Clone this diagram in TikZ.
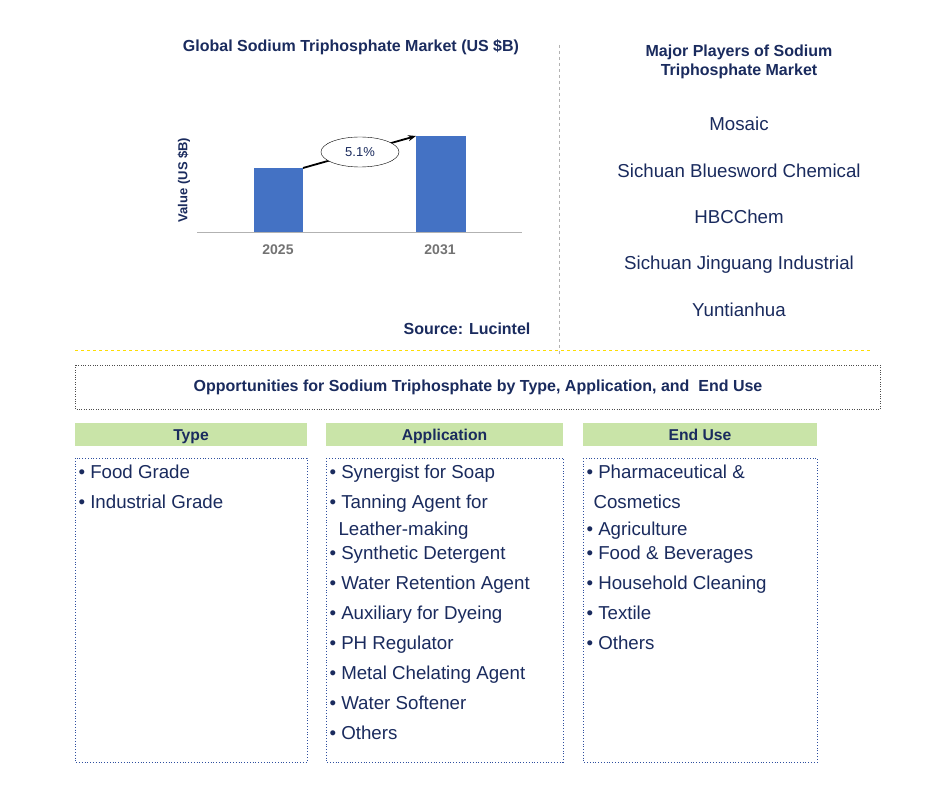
\documentclass[tikz,border=0pt]{standalone}
\usepackage{fontspec}
\setmainfont{Liberation Sans}
\usetikzlibrary{arrows.meta,shapes.geometric}
\definecolor{navy}{HTML}{1A2B5E}
\definecolor{barblue}{HTML}{4472C4}
\definecolor{hdrgreen}{HTML}{C9E4A8}
\definecolor{boxblue}{HTML}{2F4F9F}
\tikzset{
 ttl/.style={font=\fontsize{16}{19}\selectfont\bfseries, text=navy, align=center},
 player/.style={font=\fontsize{18.7}{22}\selectfont, text=navy, anchor=base},
 itm/.style={font=\fontsize{18.7}{22}\selectfont, text=navy, anchor=base west},
 hdr/.style={fill=hdrgreen, draw=none, minimum height=23pt},
 hdrtxt/.style={font=\fontsize{15.7}{18}\selectfont\bfseries, text=navy, anchor=base},
 dotbox/.style={draw=boxblue, dotted, thick},
 bar/.style={fill=barblue, draw=none},
}
\begin{document}
\begin{tikzpicture}[x=1pt,y=-1pt]
\useasboundingbox (0,0) rectangle (945,791);
\fill[white] (0,0) rectangle (945,791);
% chart
\node[ttl] (t1) at (351,47) {Global Sodium Triphosphate Market (US \$B)};
\node[ttl, font=\fontsize{13}{15}\selectfont\bfseries, rotate=90] (yl) at (184,180) {Value (US \$B)};
\draw[gray!60] (197,232) -- (522,232);
\fill[bar] (254,168) rectangle (303,232);
\fill[bar] (416,136) rectangle (466,232);
\coordinate (a1) at (303,168);
\coordinate (a2) at (416,136);
\draw[-{Stealth[length=8pt]}, line width=1.8pt] (a1) -- (a2);
\node[draw=black, fill=white, ellipse, minimum width=78pt, minimum height=30pt, font=\fontsize{13}{15}\selectfont, text=navy] (cagr) at (360,152) {5.1\%};
\node[font=\fontsize{14}{16}\selectfont\bfseries, text=gray!90!black] (x1) at (278,250) {2025};
\node[font=\fontsize{14}{16}\selectfont\bfseries, text=gray!90!black] (x2) at (440,250) {2031};
\node[ttl] (src) at (467,329) {Source: Lucintel};
\draw[gray!60, dashed] (559,45) -- (559,355);
\draw[yellow!80!orange, dashed] (75,350) -- (870,350);
% players
\node[ttl] (t2) at (739,62) {Major Players of Sodium\\Triphosphate Market};
\node[player] (p1) at (739,131) {Mosaic};
\node[player] (p2) at (739,178) {Sichuan Bluesword Chemical};
\node[player] (p3) at (739,224) {HBCChem};
\node[player] (p4) at (739,270) {Sichuan Jinguang Industrial};
\node[player] (p5) at (739,317) {Yuntianhua};
% opportunities
\draw[dotbox, black!70, thin] (75,365) rectangle (880,409);
\node[ttl] (opp) at (478,387) {Opportunities for Sodium Triphosphate by Type, Application, and\ \ End Use};
\fill[hdrgreen] (75,423) rectangle (307,446);
\fill[hdrgreen] (326,423) rectangle (563,446);
\fill[hdrgreen] (583,423) rectangle (817,446);
\node[hdrtxt] (h1) at (191,440) {Type};
\node[hdrtxt] (h2) at (444.5,440) {Application};
\node[hdrtxt] (h3) at (700,440) {End Use};
\draw[dotbox] (75,458) rectangle (307,762);
\draw[dotbox] (326,458) rectangle (563,762);
\draw[dotbox] (583,458) rectangle (817,762);
% type
\node[itm] at (75,478) {• Food Grade};
\node[itm] at (75,508) {• Industrial Grade};
% application
\node[itm] at (326,478) {• Synergist for Soap};
\node[itm] at (326,508) {• Tanning Agent for};
\node[itm] at (335,535) {Leather-making};
\node[itm] at (326,559) {• Synthetic Detergent};
\node[itm] at (326,589) {• Water Retention Agent};
\node[itm] at (326,619) {• Auxiliary for Dyeing};
\node[itm] at (326,649) {• PH Regulator};
\node[itm] at (326,679) {• Metal Chelating Agent};
\node[itm] at (326,709) {• Water Softener};
\node[itm] at (326,739) {• Others};
% end use
\node[itm] at (583,478) {• Pharmaceutical \&};
\node[itm] at (590,508) {Cosmetics};
\node[itm] at (583,535) {• Agriculture};
\node[itm] at (583,559) {• Food \& Beverages};
\node[itm] at (583,589) {• Household Cleaning};
\node[itm] at (583,619) {• Textile};
\node[itm] at (583,649) {• Others};
\end{tikzpicture}
\end{document}
